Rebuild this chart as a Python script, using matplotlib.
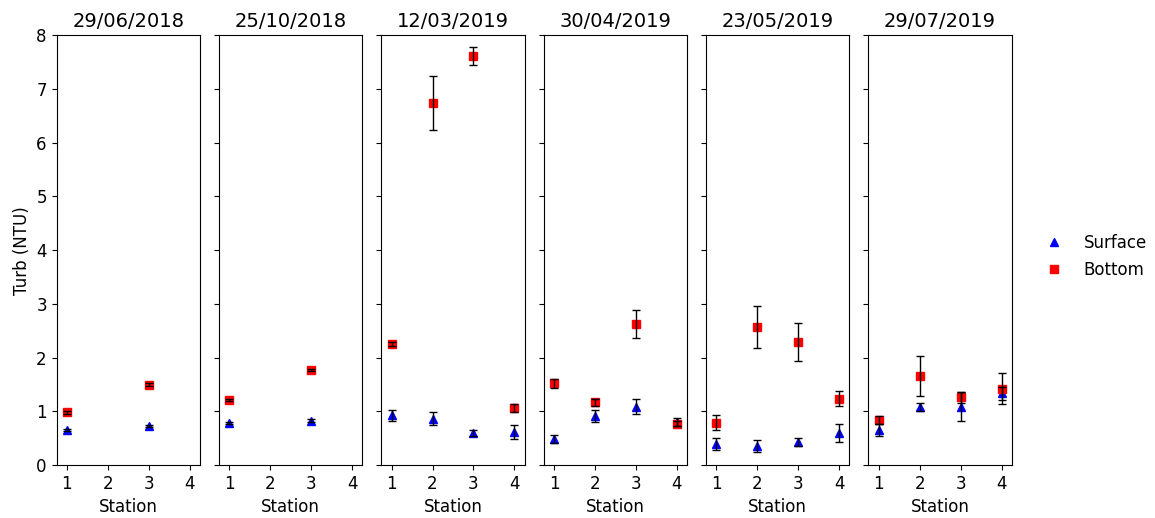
#!/usr/bin/env python3

from matplotlib import pyplot as plt
import numpy as np

nan = np.nan

dates = ["29/06/2018", "25/10/2018", "12/03/2019", "30/04/2019", "23/05/2019", "29/07/2019"]
stations = [1, 2, 3, 4]

surface = [
    [0.66, nan, 0.73, nan],
    [0.79, nan, 0.83, nan],
    [0.93, 0.86, 0.60, 0.62],
    [0.49, 0.91, 1.09, 0.80],
    [0.40, 0.36, 0.43, 0.60],
    [0.65, 1.08, 1.09, 1.34],
]
surface_err = [
    [0.02, nan, 0.02, nan],
    [0.02, nan, 0.02, nan],
    [0.10, 0.12, 0.06, 0.13],
    [0.08, 0.11, 0.14, 0.08],
    [0.11, 0.11, 0.08, 0.16],
    [0.11, 0.08, 0.27, 0.12],
]
bottom = [
    [0.98, nan, 1.50, nan],
    [1.21, nan, 1.77, nan],
    [2.25, 6.74, 7.61, 1.06],
    [1.52, 1.17, 2.63, 0.77],
    [0.79, 2.57, 2.29, 1.24],
    [0.84, 1.66, 1.26, 1.42],
]
bottom_err = [
    [0.02, nan, 0.02, nan],
    [0.02, nan, 0.02, nan],
    [0.04, 0.50, 0.17, 0.07],
    [0.08, 0.065, 0.26, 0.05],
    [0.14, 0.39, 0.36, 0.14],
    [0.07, 0.37, 0.10, 0.29],
]


def main():
    plt.rcParams["font.size"] = 12
    fig, axes = plt.subplots(1, len(dates), sharey=True, figsize=(11.55, 5.18), dpi=100)
    fig.subplots_adjust(left=0.049, right=0.876, top=0.932, bottom=0.102, wspace=0.133)

    for i, ax in enumerate(axes):
        ax.plot(stations, surface[i], "^", color="blue", markersize=6, label="Surface")
        ax.plot(stations, bottom[i], "s", color="red", markersize=6, label="Bottom")
        # error bars drawn over the markers
        ax.errorbar(stations, surface[i], yerr=surface_err[i], fmt="none",
                    ecolor="black", elinewidth=1, capsize=3, zorder=3)
        ax.errorbar(stations, bottom[i], yerr=bottom_err[i], fmt="none",
                    ecolor="black", elinewidth=1, capsize=3, zorder=3)
        ax.set_title(dates[i], fontsize=14)
        ax.set_xlim(0.75, 4.25)
        ax.set_xticks(stations)
        ax.set_xlabel("Station")

    axes[0].set_ylim(0, 8)
    axes[0].set_ylabel("Turb (NTU)")

    handles, labels = axes[0].get_legend_handles_labels()
    fig.legend(handles, labels, loc="center left", bbox_to_anchor=(0.885, 0.505), frameon=False)

    fig.savefig("out.png")


if __name__ == "__main__":
    main()
